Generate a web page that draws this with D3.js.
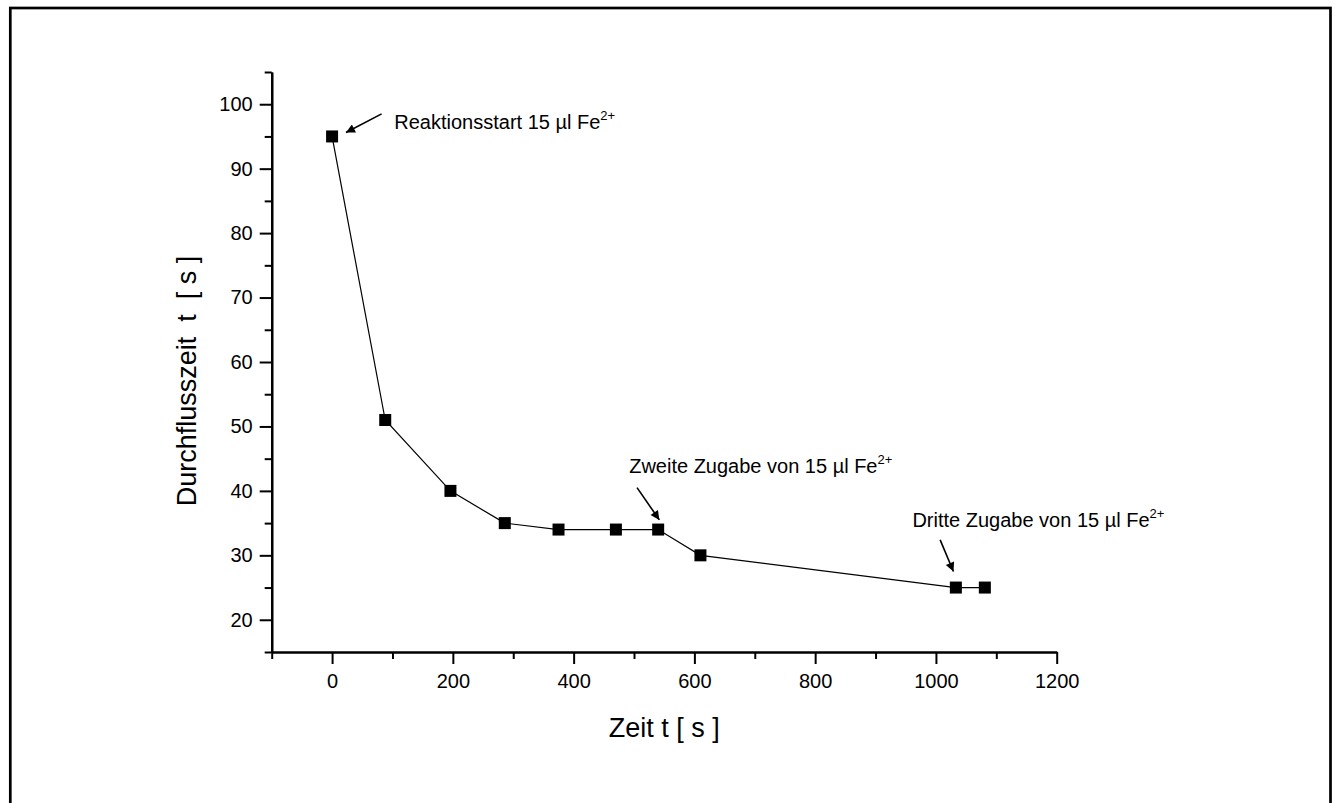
<!DOCTYPE html>
<html>
<head>
<meta charset="utf-8">
<script src="https://cdn.jsdelivr.net/npm/d3@7"></script>
<style>
  html, body { margin: 0; padding: 0; background: #fff; }
  svg { display: block; }
  text { font-family: "Liberation Sans", Arial, sans-serif; fill: #000; }
</style>
</head>
<body>
<svg id="chart" width="1337" height="803"></svg>
<script>
// ---- data ----
const timeSeconds = [0, 88, 196, 286, 375, 470, 540, 610, 1033, 1081];
const flowTime    = [95, 51, 40, 35, 34, 34, 34, 30, 25, 25];

const xTicks = [0, 200, 400, 600, 800, 1000, 1200];
const xMinorTicks = [-100, 100, 300, 500, 700, 900, 1100];
const yTicks = [20, 30, 40, 50, 60, 70, 80, 90, 100];
const yMinorTicks = [15, 25, 35, 45, 55, 65, 75, 85, 95, 105];

const xTitle = "Zeit t [ s ]";
const yTitle = "Durchflusszeit\u00a0\u00a0t\u00a0\u00a0[ s ]";

// annotation texts (data coordinates)
const annoTexts  = ["Reaktionsstart 15 \u00b5l Fe", "Zweite Zugabe von 15 \u00b5l Fe", "Dritte Zugabe von 15 \u00b5l Fe"];
const annoSup    = ["2+", "2+", "2+"];
const annoTextX  = [103, 492, 961];
const annoTextY  = [96.1, 42.8, 34.4];
const arrowFromX = [82, 505, 1007];
const arrowFromY = [98.5, 40.5, 32.4];
const arrowToX   = [23, 542, 1029];
const arrowToY   = [95.6, 35.5, 27.5];

// ---- drawing ----
const svg = d3.select("#chart");
const plot = { left: 271.7, right: 1056.7, top: 72, bottom: 652 };

const x = d3.scaleLinear().domain([-100, 1200]).range([plot.left, plot.right]);
const y = d3.scaleLinear().domain([15, 105]).range([plot.bottom, plot.top]);

// outer frame
svg.append("rect")
  .attr("x", 10.3).attr("y", 8).attr("width", 1320.2).attr("height", 820)
  .attr("fill", "none").attr("stroke", "#000").attr("stroke-width", 2.7);

svg.append("defs").append("marker")
  .attr("id", "arrow").attr("viewBox", "0 0 10 10")
  .attr("refX", 10).attr("refY", 5)
  .attr("markerWidth", 14).attr("markerHeight", 9)
  .attr("markerUnits", "userSpaceOnUse")
  .attr("orient", "auto")
  .append("path").attr("d", "M0,0 L10,5 L0,10 z").attr("fill", "#000");

const fmt = d3.format("d");

// axes
const xAxis = svg.append("g").attr("transform", `translate(0,${plot.bottom})`)
  .call(d3.axisBottom(x).tickValues(xTicks).tickFormat(fmt).tickSize(12).tickPadding(10).tickSizeOuter(0));
const xMinor = svg.append("g").attr("transform", `translate(0,${plot.bottom})`)
  .call(d3.axisBottom(x).tickValues(xMinorTicks).tickSize(7).tickFormat("").tickSizeOuter(0));
const yAxis = svg.append("g").attr("transform", `translate(${plot.left},0)`)
  .call(d3.axisLeft(y).tickValues(yTicks).tickFormat(fmt).tickSize(12).tickPadding(7).tickSizeOuter(0));
const yMinor = svg.append("g").attr("transform", `translate(${plot.left},0)`)
  .call(d3.axisLeft(y).tickValues(yMinorTicks).tickSize(7).tickFormat("").tickSizeOuter(0));

[xAxis, xMinor, yAxis, yMinor].forEach(g => {
  g.selectAll("path.domain").attr("stroke", "#000").attr("stroke-width", 2.2);
  g.selectAll(".tick line").attr("stroke", "#000").attr("stroke-width", 2);
  g.selectAll(".tick text").attr("font-size", 20).attr("font-family", "Liberation Sans, Arial, sans-serif").attr("fill", "#000");
});

// axis titles
svg.append("text")
  .attr("x", (plot.left + plot.right) / 2).attr("y", 737)
  .attr("text-anchor", "middle").attr("font-size", 27)
  .text(xTitle);
svg.append("text")
  .attr("transform", `translate(196,381) rotate(-90)`)
  .attr("text-anchor", "middle").attr("font-size", 27)
  .text(yTitle);

// data line
const pts = timeSeconds.map((t, i) => [t, flowTime[i]]);
svg.append("path")
  .datum(pts)
  .attr("fill", "none").attr("stroke", "#000").attr("stroke-width", 1.2)
  .attr("d", d3.line().x(d => x(d[0])).y(d => y(d[1])));

// markers
const ms = 12;
svg.selectAll("rect.pt").data(pts).enter().append("rect")
  .attr("class", "pt")
  .attr("x", d => x(d[0]) - ms / 2).attr("y", d => y(d[1]) - ms / 2)
  .attr("width", ms).attr("height", ms).attr("fill", "#000");

// annotations
annoTexts.forEach((t, i) => {
  const txt = svg.append("text")
    .attr("x", x(annoTextX[i])).attr("y", y(annoTextY[i]))
    .attr("font-size", 20);
  txt.append("tspan").text(t);
  txt.append("tspan").attr("font-size", 13).attr("dy", -9).text(annoSup[i]);
  svg.append("line")
    .attr("x1", x(arrowFromX[i])).attr("y1", y(arrowFromY[i]))
    .attr("x2", x(arrowToX[i])).attr("y2", y(arrowToY[i]))
    .attr("stroke", "#000").attr("stroke-width", 1.6)
    .attr("marker-end", "url(#arrow)");
});
</script>
</body>
</html>
